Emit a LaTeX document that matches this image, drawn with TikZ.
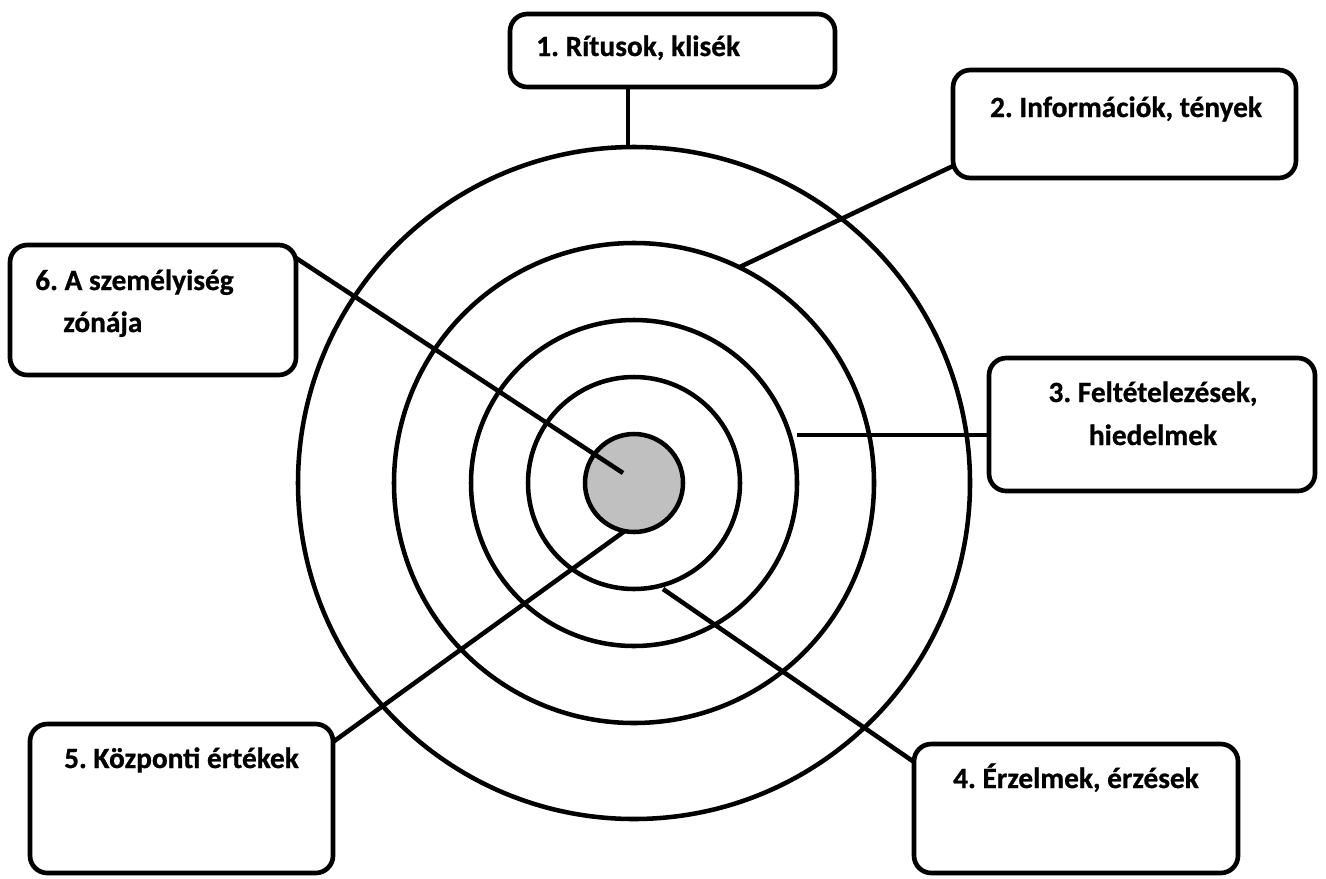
\documentclass[tikz,border=0pt]{standalone}
\usepackage{fontspec}
\setmainfont{Carlito}[BoldFont={Carlito Bold}, BoldFeatures={FakeBold=0.8}]
\frenchspacing
\begin{document}
\begin{tikzpicture}[x=0.75pt,y=-0.75pt,
  ring/.style={draw, circle, line width=3.4pt, inner sep=0pt, outer sep=0pt, minimum size=#1*1.5pt},
  zonebox/.style n args={2}{draw, rounded corners=13pt, line width=3.5pt, fill=white,
    inner sep=0pt, outer sep=0pt, minimum width=#1*0.75pt, minimum height=#2*0.75pt},
  lbl/.style={anchor=base, inner sep=0pt, font=\fontsize{22}{26}\selectfont\bfseries},
  link/.style={line width=3.4pt}
]
\useasboundingbox (0,0) rectangle (1326,878);

% concentric zones
\node[ring=336] (c5) at (634,483) {};
\node[ring=240] (c4) at (634,483) {};
\node[ring=163] (c3) at (634,483) {};
\node[ring=106] (c2) at (634,483) {};
\node[ring=49, fill={rgb,255:red,192;green,192;blue,192}] (c1) at (634,483) {};

% label boxes
\node[zonebox={325}{73}]  (b1) at (672.5,50.5) {};
\node[zonebox={343}{108}] (b2) at (1124.5,124) {};
\node[zonebox={326}{133}] (b3) at (1152,424.5) {};
\node[zonebox={324}{129}] (b4) at (1076,808.5) {};
\node[zonebox={303}{149}] (b5) at (181.5,798.5) {};
\node[zonebox={286}{130}] (b6) at (153,310) {};

% free ends of the connectors
\coordinate (t3) at (797,435);
\coordinate (t4) at (663,589);
\coordinate (t6) at (623,473);

% connectors
\draw[link] (b1.south -| c5.91.4) -- (c5.91.4);
\draw[link] ([yshift=-31.5pt]b2.west) -- (c4.64);
\draw[link] (t3) -- (b3.west |- t3);
\draw[link] ([yshift=34.9pt]b4.west) -- (t4);
\draw[link] ([yshift=42.4pt]b5.east) -- (c1.-101.5);
\draw[link] ([yshift=39pt]b6.east) -- (t6);

% texts
\node[lbl, anchor=base west] (l1) at (536,56) {1. Rítusok, klisék};
\node[lbl] (l2) at (1126,117) {2. Információk, tények};
\node[lbl] (l3a) at (1153,402) {3. Feltételezések,};
\node[lbl] (l3b) at (1153,445) {hiedelmek};
\node[lbl] (l4) at (1076,788) {4. Érzelmek, érzések};
\node[lbl] (l5) at (181.5,768) {5. Központi értékek};
\node[lbl, anchor=base west] (l6a) at (35,290) {6. A személyiség};
\node[lbl, anchor=base west] (l6b) at (63,332) {zónája};
\end{tikzpicture}
\end{document}
